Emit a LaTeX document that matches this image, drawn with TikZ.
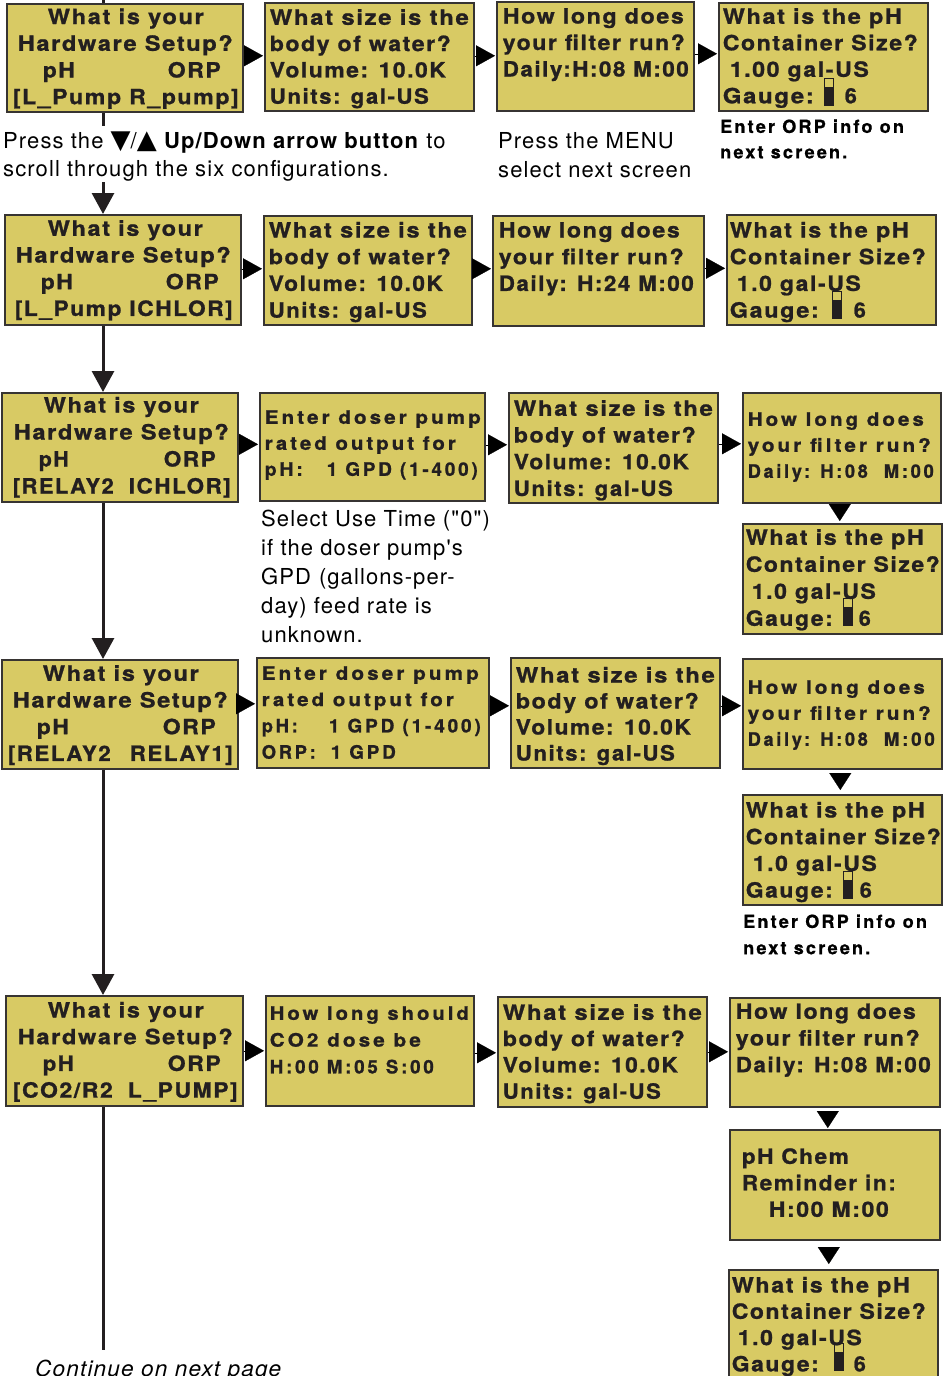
\documentclass[tikz,border=0pt]{standalone}
\usepackage{fontspec}
\usetikzlibrary{arrows.meta,calc}
\newfontfamily\lcdA[LetterSpace=7,FakeBold=1.0]{TeX Gyre Heros}
\newfontfamily\lcdB[LetterSpace=15,FakeBold=1.0]{TeX Gyre Heros}
\newfontfamily\lcdN[LetterSpace=12.4,FakeBold=0.9]{TeX Gyre Heros}
\newfontfamily\txtf[LetterSpace=5]{TeX Gyre Heros}
\newfontfamily\symf{DejaVu Sans}
\definecolor{boxfill}{RGB}{216,202,100}
\definecolor{boxline}{RGB}{55,52,50}
\definecolor{ink}{RGB}{35,31,32}
% a piece of text placed at x (from box's left edge), scaled to width w
\newcommand\At[3]{\rlap{\hspace*{#1pt}\resizebox{#2pt}{\height}{#3}}}
% font set-up: first baseline below box top, line spacing
\newcommand\FA[2]{\lcdA\bfseries\fontsize{21}{#2}\selectfont\rule{0pt}{#1pt}}
\newcommand\FB[2]{\lcdB\bfseries\fontsize{18.5}{#2}\selectfont\rule{0pt}{#1pt}}
\newcommand\lcdbox[6]{\node[box] (#1) at (#2,#3) {\parbox[t][#5pt][t]{#4pt}{#6}};}
\newcommand\gauge[3]{%
  \draw[ink, line width=1.3pt] ($(#1.north west)+(#2+0.65,#3+0.65)$) rectangle ($(#1.north west)+(#2+9.35,#3+27)$);
  \fill[ink] ($(#1.north west)+(#2,#3+9)$) rectangle ($(#1.north west)+(#2+10,#3+28)$);}
\newcommand\harr[3]{\coordinate (h#1) at ($(#1.east)+(0,#3)$); \draw[htip] (h#1) -- (h#1 -| #2.west);}
\newcommand\varr[5]{\coordinate (v#1) at ($(#1.south)+(#3,0)$); \draw[vtip, shorten >=#4pt, shorten <=#5pt] (v#1) -- (v#1 |- #2.north);}
\newcommand\trdown{{\symf\fontsize{26}{20}\selectfont ▼}}
\newcommand\trup{{\symf\fontsize{26}{20}\selectfont ▲}}
\begin{document}
\begin{tikzpicture}[x=1pt,y=-1pt,
  box/.style={draw=boxline, fill=boxfill, line width=1.6pt, inner sep=0pt, anchor=north west, text=ink},
  txt/.style={inner sep=0pt, anchor=north west, text=black},
  htip/.style={-{Triangle[length=19pt,width=21pt]}, line width=0.2pt, draw=black, shorten >=1pt},
  vtip/.style={-{Triangle[length=17pt,width=22pt]}, line width=0.2pt, draw=black},
  spine/.style={line width=3pt, draw=ink},
  spinearrow/.style={spine, -{Triangle[length=21pt,width=22pt]}}]
\useasboundingbox (0,0) rectangle (949,1376);
\fill[white] (0,0) rectangle (949,1376);

% ---------- row 1
\lcdbox{b1a}{6}{3}{236}{108}{\FA{20.3}{26.7}\At{41}{156}{What is your}\\\At{11}{215}{Hardware Setup?}\\\At{36}{32}{pH}\At{161}{53}{ORP}\\\At{6}{226}{[L\_Pump R\_pump]}}
\lcdbox{b1b}{264}{2}{209}{108}{\FA{22}{26.3}\At{5}{199}{What size is the}\\\At{5}{181}{body of water?}\\\At{5}{176}{Volume: 10.0K}\\\At{5}{159}{Units: gal-US}}
\lcdbox{b1c}{496}{1}{197}{109}{\FA{21.7}{26.5}\At{6}{181}{How long does}\\\At{6}{182}{your filter run?}\\\At{6}{186}{Daily:H:08 M:00}}
\lcdbox{b1d}{718}{2}{209}{108}{\FA{21}{26.5}\At{4}{179}{What is the pH}\\\At{4}{195}{Container Size?}\\\At{11}{139}{1.00 gal-US}\\\At{4}{91}{Gauge:}\At{126}{12}{6}}
% ---------- row 2
\lcdbox{b2a}{4}{214}{236}{110}{\FA{21}{26.7}\At{43}{155}{What is your}\\\At{11}{215}{Hardware Setup?}\\\At{36}{32}{pH}\At{161}{53}{ORP}\\\At{10}{218}{[L\_Pump ICHLOR]}}
\lcdbox{b2b}{263}{215}{208}{109}{\FA{21.7}{26.7}\At{5}{198}{What size is the}\\\At{5}{182}{body of water?}\\\At{5}{174}{Volume: 10.0K}\\\At{5}{158}{Units: gal-US}}
\lcdbox{b2c}{492}{215}{211}{110}{\FA{21.7}{26.7}\At{6}{181}{How long does}\\\At{6}{185}{your filter run?}\\\At{6}{195}{Daily: H:24 M:00}}
\lcdbox{b2d}{726}{214}{209}{110}{\FA{22.7}{26.7}\At{3}{179}{What is the pH}\\\At{3}{196}{Container Size?}\\\At{10}{124}{1.0 gal-US}\\\At{3}{89}{Gauge:}\At{127}{12}{6}}
% ---------- row 3
\lcdbox{b3a}{1}{392}{236}{109}{\FA{19.7}{27}\At{42}{155}{What is your}\\\At{12}{215}{Hardware Setup?}\\\At{37}{30}{pH}\At{162}{52}{ORP}\\\At{11}{101}{[RELAY2}\At{127}{102}{ICHLOR]}}
\lcdbox{b3b}{259}{392}{225}{108}{\FB{31}{26}\At{5}{216}{Enter doser pump}\\\At{5}{191}{rated output for}\\\At{5}{38}{pH:}\At{67}{151}{1 GPD (1-400)}}
\lcdbox{b3c}{508}{392}{209}{110}{\FA{23}{26.7}\At{5}{199}{What size is the}\\\At{5}{182}{body of water?}\\\At{5}{175}{Volume: 10.0K}\\\At{5}{159}{Units: gal-US}}
\lcdbox{b3d}{742}{392}{198}{110}{\FB{33}{26}\At{5}{176}{How long does}\\\At{5}{183}{your filter run?}\\\At{5}{120}{Daily: H:08}\At{141}{50}{M:00}}
\lcdbox{b3e}{742}{523}{199}{110}{\FA{21}{27}\At{3}{178}{What is the pH}\\\At{3}{194}{Container Size?}\\\At{9}{124}{1.0 gal-US}\\\At{3}{87}{Gauge:}\At{116}{12}{6}}
% ---------- row 4
\lcdbox{b4a}{1}{659}{236}{109}{\FA{21}{26.7}\At{41}{156}{What is your}\\\At{11}{215}{Hardware Setup?}\\\At{35}{32}{pH}\At{161}{53}{ORP}\\\At{6}{103}{[RELAY2}\At{128}{103}{RELAY1]}}
\lcdbox{b4b}{256}{657}{232}{110}{\FB{22}{26.3}\At{5}{217}{Enter doser pump}\\\At{5}{192}{rated output for}\\\At{5}{36}{pH:}\At{72}{152}{1 GPD (1-400)}\\\At{5}{54}{ORP:}\At{74}{65}{1 GPD}}
\lcdbox{b4c}{510}{657}{209}{110}{\FA{24.7}{26}\At{5}{199}{What size is the}\\\At{5}{183}{body of water?}\\\At{5}{175}{Volume: 10.0K}\\\At{5}{159}{Units: gal-US}}
\lcdbox{b4d}{742}{658}{199}{110}{\FB{35}{26}\At{5}{177}{How long does}\\\At{5}{183}{your filter run?}\\\At{5}{120}{Daily: H:08}\At{141}{51}{M:00}}
\lcdbox{b4e}{742}{794}{199}{110}{\FA{22.7}{26.7}\At{3}{179}{What is the pH}\\\At{3}{195}{Container Size?}\\\At{10}{124}{1.0 gal-US}\\\At{3}{87}{Gauge:}\At{117}{12}{6}}
% ---------- row 5
\lcdbox{b5a}{5}{995}{237}{110}{\FA{21.7}{26.7}\At{42}{156}{What is your}\\\At{12}{215}{Hardware Setup?}\\\At{37}{31}{pH}\At{162}{53}{ORP}\\\At{7}{100}{[CO2/R2}\At{122}{110}{L\_PUMP]}}
\lcdbox{b5b}{265}{995}{208}{110}{\FB{24}{26.8}\At{4}{199}{How long should}\\\At{4}{151}{CO2 dose be}\\\At{4}{164}{H:00 M:05 S:00}}
\lcdbox{b5c}{497}{996}{209}{110}{\FA{23}{26.3}\At{5}{199}{What size is the}\\\At{5}{182}{body of water?}\\\At{5}{175}{Volume: 10.0K}\\\At{5}{158}{Units: gal-US}}
\lcdbox{b5d}{729}{997}{210}{109}{\FA{21}{26.7}\At{6}{180}{How long does}\\\At{6}{184}{your filter run?}\\\At{6}{195}{Daily: H:08 M:00}}
\lcdbox{b5e}{729}{1129}{210}{110}{\FA{34}{26.5}\At{12}{107}{pH Chem}\\\At{12}{154}{Reminder in:}\\\At{39}{120}{H:00 M:00}}
\lcdbox{b5f}{728}{1269}{209}{110}{\FA{22.7}{26.3}\At{3}{178}{What is the pH}\\\At{3}{194}{Container Size?}\\\At{9}{124}{1.0 gal-US}\\\At{3}{87}{Gauge:}\At{125}{12}{6}}

% ---------- gauge icons
\gauge{b1d}{106}{76}
\gauge{b2d}{106}{77}
\gauge{b3e}{101}{75}
\gauge{b4e}{101}{77}
\gauge{b5f}{106}{74}

% ---------- horizontal arrow tips
\harr{b1a}{b1b}{-2} \harr{b1b}{b1c}{-1} \harr{b1c}{b1d}{-2.5}
\harr{b2a}{b2b}{-1} \harr{b2b}{b2c}{-1.5} \harr{b2c}{b2d}{-2.5}
\harr{b3a}{b3b}{-3} \harr{b3b}{b3c}{-2} \harr{b3c}{b3d}{-4}
\harr{b4a}{b4b}{-10.5} \harr{b4b}{b4c}{-7} \harr{b4c}{b4d}{-7}
\harr{b5a}{b5b}{0} \harr{b5b}{b5c}{2} \harr{b5c}{b5d}{0}
% ---------- vertical arrow tips
\varr{b3d}{b3e}{-2}{2}{1.5}
\varr{b4d}{b4e}{-2}{4}{4.5}
\varr{b5d}{b5e}{-7}{1}{4.5}
\varr{b5e}{b5f}{-6}{5}{7.5}

% ---------- spine
\coordinate (sp) at (103,0);
\coordinate (spend) at (103,1350);
\draw[spine] (sp) -- (sp |- b1a.north);
\draw[spinearrow] (sp |- b1a.south) -- (sp |- b2a.north);
\draw[spinearrow] (sp |- b2a.south) -- (sp |- b3a.north);
\draw[spinearrow] (sp |- b3a.south) -- (sp |- b4a.north);
\draw[spinearrow] (sp |- b4a.south) -- (sp |- b5a.north);
\draw[spine] (sp |- b5a.south) -- (spend);

% ---------- notes
\node[txt, fill=white] (d1) at (3,126) {\parbox[t]{470pt}{\raggedright\txtf\fontsize{22}{28.4}\selectfont\rule{0pt}{22.3pt}Press the \trdown/\trup{} \textbf{Up/Down arrow button} to\\scroll through the six configurations.}};
\node[txt] (d2) at (498,126) {\parbox[t]{220pt}{\raggedright\txtf\fontsize{22}{29}\selectfont\rule{0pt}{22pt}Press the MENU\\select next screen}};
\node[txt] (d3) at (720,112) {\parbox[t]{225pt}{\raggedright\lcdN\bfseries\fontsize{18}{25.5}\selectfont\rule{0pt}{20.7pt}Enter ORP info on\\next screen.}};
\node[txt] (d4) at (261,505) {\parbox[t]{240pt}{\raggedright\txtf\fontsize{22}{29}\selectfont\rule{0pt}{21.7pt}Select Use Time ("0")\\if the doser pump's\\GPD\hspace{8pt}(gallons-per-\\day) feed rate is\\unknown.}};
\node[txt] (d5) at (743,907) {\parbox[t]{205pt}{\raggedright\lcdN\bfseries\fontsize{18}{26.3}\selectfont\rule{0pt}{20.7pt}Enter ORP info on\\next screen.}};
\node[txt, anchor=base west] (d6) at (35,1376) {\resizebox{246pt}{\height}{\txtf\itshape\fontsize{22}{26}\selectfont Continue on next page}};
\end{tikzpicture}
\end{document}
